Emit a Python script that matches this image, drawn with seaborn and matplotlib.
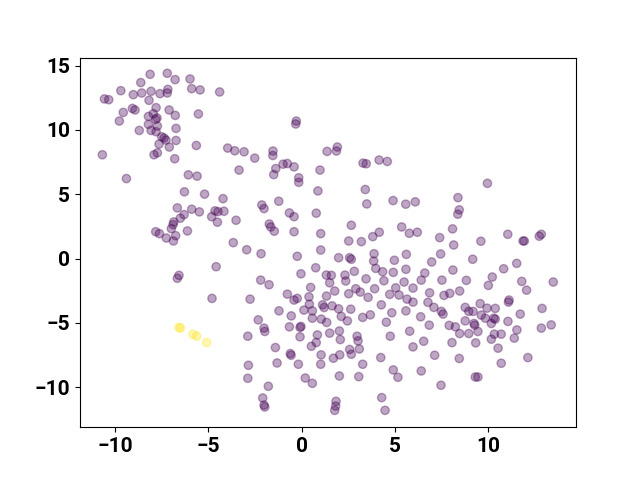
import matplotlib
matplotlib.use("Agg")
import matplotlib.pyplot as plt
import seaborn as sns
import pandas as pd

# cluster 0 (purple) embedding coordinates
x0 = [-8.12, -7.20, -6.78, -5.98, -8.62, -9.69, -9.02, -8.57, -8.07, -7.59,
      -7.17, -7.20, -5.89, -5.44, -10.57, -10.34, -8.18, -9.07, -8.93, -9.56,
      -7.80, -7.10, -6.77, -5.53, -9.77, -8.21, -7.95, -7.75, -7.82, -8.21,
      -7.73, -8.07, -8.70, -6.73, -7.80, -7.50, -7.37, -7.27, -6.73, -7.64,
      -7.09, -5.64, -7.73, -7.91, -10.68, -6.80, -9.39, -6.07, -5.60,
      -4.39, -0.28, -0.31, -3.96, -3.58, -3.08, -2.51, -1.53, -1.54, 1.37,
      -3.35, -1.38, -0.99, -0.76, -0.40, -1.49, 0.99, -0.15, -0.15,
      1.92, 1.87, 3.30, 3.47, 4.16, 4.60, 9.97,
      -6.28, -5.20, -6.66, -5.89, -5.48, -6.30, -6.50, -6.85, -6.89, -6.98,
      -7.82, -7.62, -7.25, -6.87, -6.75, -6.12, -6.57, -6.66,
      0.88, -4.21, -4.82, -4.64, -4.48, -4.16, -4.51, -3.51, -2.13, -2.01,
      -1.22, -0.65, -0.40, 0.79, -1.73, -1.65, -1.46, -0.40, 1.03, -3.66,
      -2.94, -2.17, -0.23, 1.03, -4.58, -0.03, 0.76, -2.19, -1.74, 0.49,
      1.33, -0.76, 0.40, 1.34, -4.80, -2.76, -0.40, -0.23, 0.42, 1.13, 1.21,
      3.42, 3.50, 4.91, 5.59, 6.10, 2.67, 2.53, 3.21, 3.82, 4.17,
      5.37, 5.78, 6.21, 7.41, 8.10, 1.99, 2.58, 2.67, 3.89, 3.87,
      3.98, 4.98, 5.62, 7.46, 6.98, 8.12, 2.83, 4.35, 4.92, 5.60,
      6.61, 2.33, 2.37, 1.60, 1.51, 3.46, 4.42, 5.50, 6.42, 7.53,
      2.91, 3.15, 1.78, 3.92, 5.05, 5.98, 6.87, 7.95, 2.53, 3.57,
      4.73, 5.23, 5.66, 5.98, 6.78, 7.64, 4.28,
      1.64, 1.99, 2.64, 2.13, 2.46, 3.28, 3.69, 4.84, 5.60, 7.10,
      7.50, 7.59, 7.92, 4.55, 6.39, 6.85, 1.51, 2.03, 2.08, 2.98,
      3.03, 4.76, 5.80, 5.98, 6.55, 8.07, 2.58, 2.67, 3.10, 1.71,
      2.05, 4.25, 7.14, 3.28, 4.92, 5.17, 6.42, 2.03, 3.07, 7.48,
      4.30, 4.48, 1.85, 1.83, 1.78,
      8.78, 8.97, 9.20, 9.58, 9.95, 10.39, 11.10, 11.13, 12.90, 11.73,
      8.78, 9.25, 9.29, 9.64, 9.86, 10.31, 10.39, 10.18, 11.07, 8.25,
      8.48, 8.97, 9.46, 10.34, 10.71, 10.18, 11.55, 11.41, 12.86, 13.39,
      9.34, 10.54, 8.46, 10.71, 12.14, 9.32, 9.46,
      8.39, 8.46, 8.38, 8.16, 9.62, 11.06, 11.88, 11.95, 12.75, 12.86,
      9.18, 10.84, 11.54, 8.84, 10.23, 10.02, 11.81, 12.07, 13.50, 8.48,
      -1.21, -0.55, 0.13, 0.58, 0.58, 1.06, 1.35, -2.32, -2.01, -1.97,
      -2.88, -0.65, -0.08, -0.03, -0.08, 0.85, 0.79, 0.53, -1.40, -0.60,
      -0.56, -1.31, -0.17, 1.05, 1.03, -2.85, -2.88, -1.78, 0.20, 0.58,
      -2.08, -2.01, -1.97]
y0 = [14.32, 14.40, 13.91, 13.96, 13.68, 13.05, 12.74, 12.87, 13.00, 12.82,
      13.15, 12.87, 13.21, 13.11, 12.41, 12.35, 12.30, 11.67, 11.55, 11.36,
      11.73, 11.55, 11.13, 11.24, 10.69, 11.05, 11.26, 10.93, 10.82, 10.43,
      10.30, 9.96, 9.96, 10.12, 9.86, 9.47, 9.37, 9.21, 9.18, 8.90,
      8.67, 8.79, 8.22, 8.07, 8.07, 7.76, 6.22, 6.51, 6.41,
      12.95, 10.69, 10.46, 8.59, 8.38, 8.30, 7.81, 8.36, 8.01, 8.33,
      6.88, 7.00, 7.34, 7.39, 7.13, 6.53, 6.88, 6.28, 5.93,
      8.67, 8.36, 7.42, 7.37, 7.66, 7.55, 5.85,
      5.19, 5.01, 3.94, 3.84, 3.63, 3.42, 3.14, 2.85, 2.64, 2.33,
      2.09, 1.94, 1.60, 1.37, 1.78, 2.15, -1.30, -1.53,
      5.26, 4.66, 3.26, 3.71, 3.65, 3.68, 2.83, 2.98, 4.17, 3.89,
      4.46, 3.55, 3.26, 3.53, 2.69, 2.46, 2.13, 2.09, 1.94, 1.24,
      0.69, 0.38, 0.18, 0.67, -0.63, -1.18, -0.71, -1.67, -2.03, -2.24,
      -1.28, -2.76, -2.97, -2.91, -3.09, -3.15, -3.22, -3.09, -3.54, -3.59, -3.80,
      5.37, 4.25, 4.51, 4.23, 4.41, 2.59, 1.37, 1.32, 1.71, 2.05,
      2.46, 1.97, 2.05, 1.63, 2.31, 0.07, 0.07, -0.05, 0.38, -0.19,
      -0.76, -0.13, 0.33, 0.36, -0.26, -0.89, -0.99, -1.02, -1.07, -0.83,
      -1.12, -1.28, -1.74, -1.30, -1.88, -1.57, -1.72, -1.82, -1.67, -1.67,
      -2.34, -2.60, -2.52, -2.34, -2.27, -2.29, -2.66, -2.70, -2.73, -3.01,
      -2.78, -2.83, -3.15, -3.38, -3.40, -2.86, -3.59,
      -3.67, -3.90, -3.93, -4.49, -4.84, -4.57, -4.37, -4.21, -4.06, -3.79,
      -4.10, -4.31, -5.19, -4.94, -4.52, -5.17, -5.79, -5.62, -6.29, -6.03,
      -6.39, -6.03, -5.64, -6.86, -6.42, -6.53, -7.06, -7.43, -7.02, -7.74,
      -7.48, -7.69, -7.51, -8.21, -8.65, -9.22, -8.73, -9.12, -9.17, -9.84,
      -10.80, -11.79, -11.09, -11.46, -11.79,
      -3.79, -4.10, -4.10, -3.50, -3.85, -3.87, -3.38, -3.22, -3.87, -4.31,
      -4.84, -5.04, -5.17, -4.39, -4.63, -4.63, -4.70, -5.04, -4.88, -5.30,
      -5.82, -5.82, -5.66, -5.87, -5.87, -6.26, -5.54, -6.18, -5.40, -5.15,
      -6.55, -6.96, -7.76, -8.13, -7.69, -9.20, -9.20,
      4.74, 3.79, 3.45, 1.06, 1.35, 1.89, 1.37, 1.37, 1.74, 1.89,
      -0.05, -0.79, -0.37, -1.69, -1.43, -2.08, -1.77, -2.45, -1.82, -2.52,
      -4.06, -4.45, -4.00, -4.06, -4.63, -4.70, -4.96, -4.76, -5.40, -5.66,
      -6.03, -5.30, -5.35, -5.27, -6.08, -5.93, -6.52, -6.81, -6.91, -7.38,
      -7.51, -8.11, -8.21, -7.48, -8.21, -8.29, -9.30, -9.92, -9.28, -9.69,
      -10.83, -11.38, -11.53]

# cluster 1 (yellow)
x1 = [-6.57, -6.49, -5.83, -5.62, -5.09]
y1 = [-5.35, -5.40, -5.87, -6.03, -6.52]

df = pd.DataFrame({
    "x": x0 + x1,
    "y": y0 + y1,
    "label": [0] * len(x0) + [1] * len(x1),
})

plt.rcParams['font.family'] = ['Roboto', 'DejaVu Sans']
plt.rcParams['font.weight'] = 'bold'
plt.rcParams['axes.unicode_minus'] = True

fig, ax = plt.subplots(figsize=(6.4, 4.8), dpi=100)
sns.scatterplot(data=df, x="x", y="y", hue="label",
                palette={0: "#440154", 1: "#fde725"},
                alpha=0.35, s=36, linewidth=1.0, edgecolor="face",
                legend=False, ax=ax)

ax.set_xlim(-11.88, 14.72)
ax.set_ylim(-13.1, 15.62)
ax.set_xlabel("")
ax.set_ylabel("")
ax.tick_params(labelsize=15)
for lbl in ax.get_xticklabels() + ax.get_yticklabels():
    lbl.set_fontweight('bold')

fig.savefig("out.png", dpi=100)
